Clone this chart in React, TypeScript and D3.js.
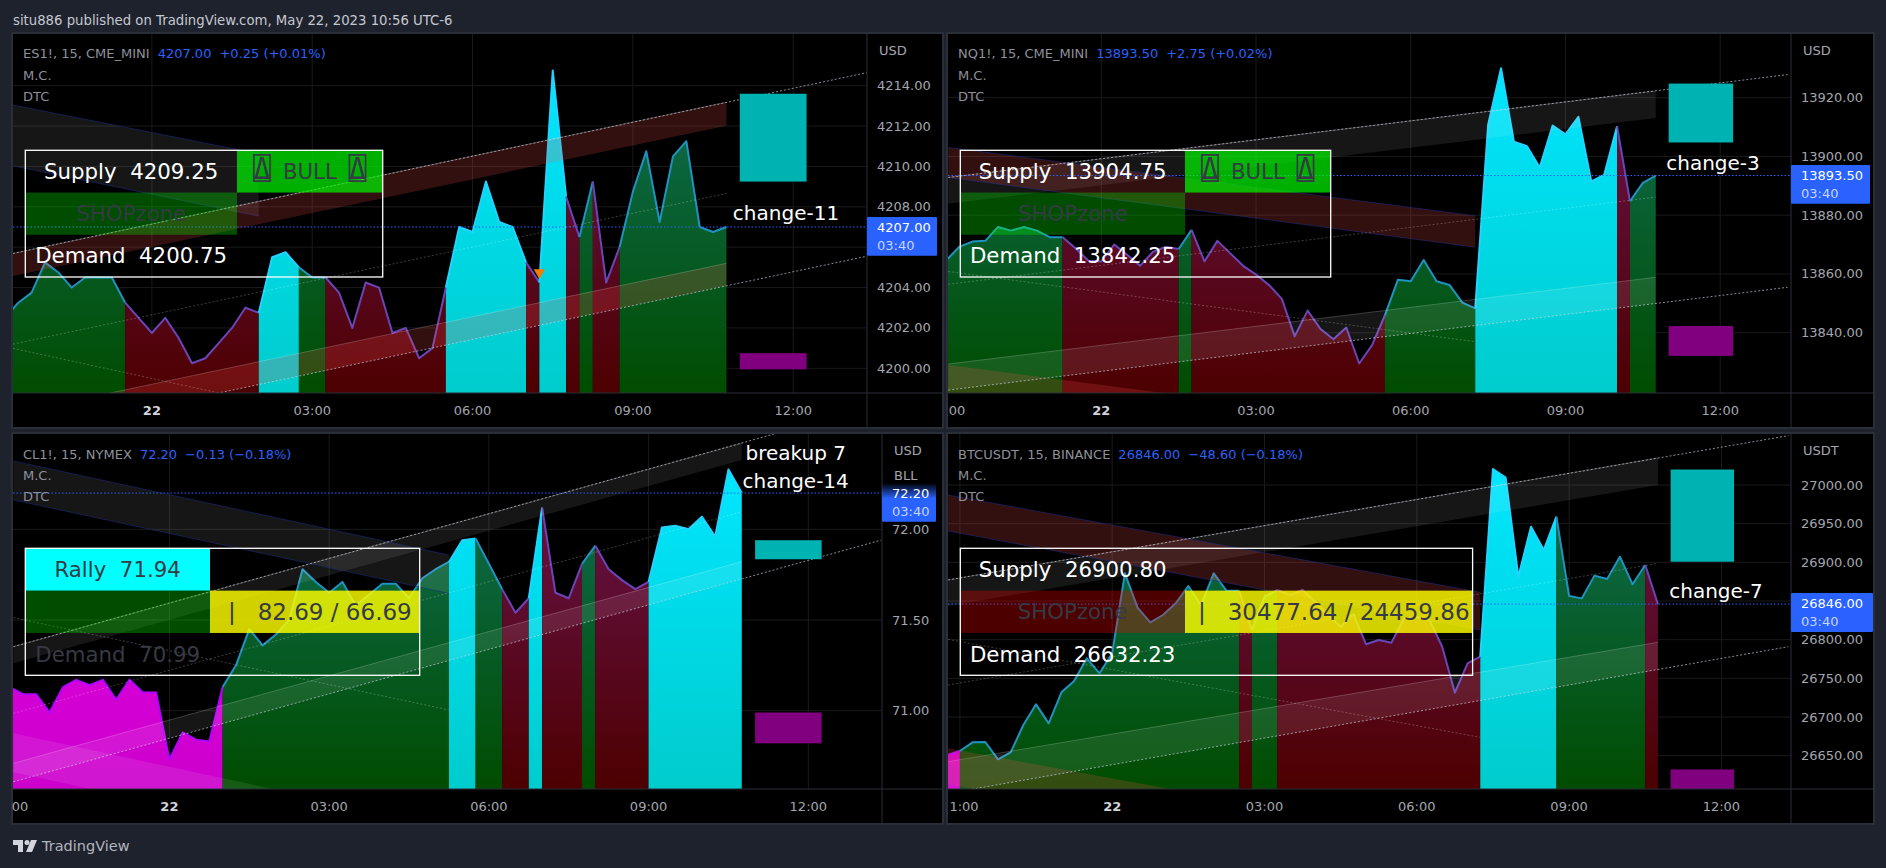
import React from "react";
import * as d3 from "d3";

const FONT = "'DejaVu Sans', sans-serif";
const MONO = "'DejaVu Sans Mono', 'DejaVu Sans', sans-serif";
const BLUE = "#2962ff";

// ---------- price series, one value per 15-minute bar ----------
const esFirstBar = -11;
const esPrices = [4202.5,4203.25,4203.75,4205.25,4204.75,4204,4204.5,4204.5,4204.5,4203.25,4202.5,4201.75,4202.5,4201.5,4200.25,4200.5,4201.25,4202,4203,4202.75,4205.5,4205.75,4205,4204.5,4204.5,4203.75,4202,4204.25,4204,4201.75,4202,4200.5,4201,4204,4207,4206.75,4209.25,4207.25,4207,4205.25,4204.25,4214.75,4208.5,4206.5,4209.25,4204.25,4206,4208.75,4210.75,4207.25,4210.5,4211.25,4207,4206.75,4207];
const esSegEnds = [-2,8,11,13,22,28,29,31,32,33,35,43];
const esSegKinds = ["g","r","c","g","r","c","r","c","r","g","r","g"];

const nqFirstBar = -12;
const nqPrices = [13864.75,13869.25,13871,13871.25,13876,13874.75,13876,13874.75,13872.5,13872.5,13868.75,13864.5,13864.25,13870,13866.5,13862.75,13867.5,13869.25,13868.5,13875,13864.25,13871.25,13867,13862.75,13859.75,13856.25,13851.5,13838.75,13847.5,13841.25,13837.75,13841.75,13829.5,13835.75,13846,13858,13857.5,13864.75,13857.5,13856.25,13850.25,13848.25,13910.75,13930,13905,13903.5,13896.25,13910.5,13907.5,13913.5,13891.5,13893.75,13910.25,13884.75,13891,13893.5];
const nqSegEnds = [-3,6,7,22,29,40,41,43];
const nqSegKinds = ["g","r","g","r","g","c","r","g"];

const clFirstBar = -12;
const clPrices = [71.13,71.09,71.09,70.99,71.13,71.17,71.14,71.17,71.06,71.17,71.1,71.1,70.73,70.88,70.84,70.83,71.13,71.25,71.45,71.36,71.42,71.5,71.78,71.71,71.65,71.71,71.58,71.64,71.7,71.7,71.62,71.73,71.78,71.82,71.94,71.95,71.81,71.67,71.54,71.62,72.12,71.65,71.62,71.81,71.91,71.78,71.72,71.67,71.71,72.01,72.02,72,72.07,71.96,72.33,72.2];
const clSegEnds = [4,21,23,25,27,28,31,32,36,43];
const clSegKinds = ["m","g","c","g","r","c","r","g","r","c"];

const btFirstBar = -13;
const btPrices = [26650.9,26656,26667.2,26667.7,26645.3,26654.3,26689.7,26716.4,26691.8,26731.9,26746.6,26775.9,26756.5,26782.3,26885.8,26841.4,26822.4,26831.9,26847,26869.4,26844.8,26885.8,26863.4,26863.4,26812.5,26855.6,26864.2,26857.8,26864.2,26849.1,26831.9,26816.8,26833.2,26794,26799.6,26796.1,26827.6,26828.9,26825.4,26790.9,26731.5,26769.4,26778,27020.7,27009.5,26881.5,26946.1,26915.9,26959,26856.5,26853.4,26882.8,26878.4,26907.3,26871.6,26896.6,26846];
const btSegEnds = [-12,10,11,13,29,35,42,43];
const btSegKinds = ["m","g","r","g","r","c","g","r"];

// ---------- axis ticks ----------
const timeBars = [-12,0,12,24,36,48];
const timeLabels = ["21:00","22","03:00","06:00","09:00","12:00"];
const esTicks = [4200,4202,4204,4206,4208,4210,4212,4214];
const nqTicks = [13840,13860,13880,13900,13920];
const clTicks = [71,71.5,72];
const btTicks = [26650,26700,26750,26800,26850,26900,26950,27000];
const hiddenTicks = [4206,26850];

// ---------- channels: [bar0, priceTop0, priceBot0, bar1, priceTop1, priceBot1, fill kind, edge kind] ----------
const esBands = [
  [-10.4,4213.04,4210.03,8,4210.63,4207.54,"w","n"],
  [-10.4,4205.69,4204.57,43,4213.18,4212.01,"r","e"],
  [-3.25,4198.76,4197.63,43,4205.2,4204.09,"r","e"],
];
const esLines = [
  [-10.4,4205.69,53.56,4214.65,"b"],
  [-10.4,4201.2,43,4208.66,"d"],
  [4.87,4198.76,53.56,4205.56,"b"],
  [-10.4,4200.99,4.87,4198.8,"d"],
];
const nqBands = [
  [-11.87,13892.84,13883.86,43,13922.3,13913.07,"w","e"],
  [-11.87,13903.07,13892.84,29,13879.77,13869.09,"r","n"],
  [-11.87,13829.32,13820.45,43,13858.86,13849.95,"w","e"],
  [-11.87,13828.98,13818.75,29,13805.68,13795.45,"r","x"],
];
const nqLines = [
  [-11.87,13892.84,53.22,13927.84,"b"],
  [-11.87,13856.48,43,13886.14,"d"],
  [-11.87,13860.8,29,13836.93,"d"],
  [-11.87,13820.45,53.22,13855.45,"b"],
];
const clBands = [
  [-11.72,71.353,71.261,43,72.475,72.382,"w","e"],
  [-11.72,72.377,72.162,21,71.858,71.647,"w","n"],
  [-11.72,70.71,70.608,43,71.822,71.727,"w","e"],
  [-11.72,70.875,70.66,21,70.36,70.145,"w","x"],
];
const clLines = [
  [-11.72,71.353,45.43,72.526,"b"],
  [-11.72,70.985,43,72.097,"d"],
  [-11.72,71.513,21,71.004,"d"],
  [-11.72,70.608,53.48,71.941,"b"],
];
const btBands = [
  [-12.93,26877.2,26843.5,43,27035,27000,"w","e"],
  [-12.93,26987.1,26940.5,29,26861.2,26812.5,"r","n"],
  [-12.93,26642.2,26601.3,43,26796.6,26761.4,"w","e"],
  [-12.93,26659.5,26612.9,29,26533.6,26487,"r","x"],
];
const btLines = [
  [-12.93,26877.2,53.28,27063.8,"b"],
  [-12.93,26741.4,43,26898.7,"d"],
  [-12.93,26800.4,29,26673.7,"d"],
  [-12.93,26601.3,53.28,26790.9,"b"],
];

// ---------- supply / demand zones ----------
const zoneBars = [44,49];
const esZones = [4213.6,4209.25,4200.75,4199.95];
const nqZones = [13924.8,13904.75,13842.25,13832.1];
const clZones = [71.94,71.835,70.99,70.82];
const btZones = [27020,26900.8,26632.23,26606.9];

const KIND: any = {
  g: { top: "#0f6e55", bot: "#004c00", line: "#2092c0" },
  r: { top: "#6a1450", bot: "#4d0000", line: "#6a45b8" },
  c: { top: "#00e6ff", bot: "#00cccc", line: "#22d3ff" },
  m: { top: "#e600e6", bot: "#cc00cc", line: "#b400ff" },
};
const BANDFILL: any = { w: "rgba(255,255,255,0.085)", r: "rgba(255,82,82,0.2)" };
const EDGE: any = { e: "rgba(255,255,255,0.2)", n: "rgba(30,45,130,0.55)" };

const CELL: any = {
  green: "rgba(0,255,0,0.69)",
  dgreen: "rgba(0,255,0,0.3)",
  dred: "rgba(255,0,0,0.3)",
  cyan: "#00ffff",
  yellow: "rgba(255,255,0,0.82)",
};
const DARK = "#363a45";
const QUAD = "\u234D";

const panels: any[] = [
  {
    id: "es", left: 13, plotRight: 867, right: 942, top: 34, bottom: 393, end: 427,
    x0: 151.9, x36: 632.9, py: [4200, 368.33, 4214, 85.67],
    firstBar: esFirstBar, prices: esPrices, segEnds: esSegEnds, segKinds: esSegKinds,
    ticks: esTicks, bands: esBands, lines: esLines, zones: esZones,
    title: "ES1!, 15, CME_MINI", quote: "4207.00", change: "+0.25 (+0.01%)", unit: "USD",
    last: 4207, lastLabel: "4207.00", labelBox: [217, 255.7], labelRight: 937,
    edgeLabel: "",
    table: { x0: 25.3, split: 237, x1: 382.7, y0: 150.3, y1: 277, cells: [
      [null, "Supply  4209.25", "#fff"], ["green", "BULL", DARK],
      ["dgreen", "SHOPzone", DARK], [null, "", DARK],
      [null, "Demand  4200.75", "#fff"], [null, "", DARK] ] },
    notes: [["change-11", 786, 213]],
    marker: [29, 4204.75],
  },
  {
    id: "nq", left: 948, plotRight: 1791, right: 1873, top: 34, bottom: 393, end: 427,
    x0: 1101.3, x36: 1565.5, py: [13840, 332.67, 13920, 97.67],
    firstBar: nqFirstBar, prices: nqPrices, segEnds: nqSegEnds, segKinds: nqSegKinds,
    ticks: nqTicks, bands: nqBands, lines: nqLines, zones: nqZones,
    title: "NQ1!, 15, CME_MINI", quote: "13893.50", change: "+2.75 (+0.02%)", unit: "USD",
    last: 13893.5, lastLabel: "13893.50", labelBox: [165, 203.7], labelRight: 1870,
    edgeLabel: "00",
    table: { x0: 960.3, split: 1185, x1: 1330.7, y0: 150.3, y1: 277, cells: [
      [null, "Supply  13904.75", "#fff"], ["green", "BULL", DARK],
      ["dgreen", "SHOPzone", DARK], [null, "", DARK],
      [null, "Demand  13842.25", "#fff"], [null, "", DARK] ] },
    notes: [["change-3", 1713, 163]],
  },
  {
    id: "cl", left: 13, plotRight: 882, right: 942, top: 434, bottom: 789, end: 823,
    x0: 169.4, x36: 648.6, py: [71, 710.67, 72, 529.33],
    firstBar: clFirstBar, prices: clPrices, segEnds: clSegEnds, segKinds: clSegKinds,
    ticks: clTicks, bands: clBands, lines: clLines, zones: clZones,
    title: "CL1!, 15, NYMEX", quote: "72.20", change: "\u22120.13 (\u22120.18%)", unit: "USD",
    last: 72.2, lastLabel: "72.20", labelBox: [483, 521.7], labelRight: 936, bll: true,
    edgeLabel: "00",
    table: { x0: 25.3, split: 210, x1: 419.7, y0: 548.3, y1: 675.3, cells: [
      ["cyan", "Rally  71.94", DARK], [null, "", DARK],
      ["dgreen", "", DARK], ["yellow", "|   82.69 / 66.69", DARK],
      [null, "Demand  70.99", DARK], [null, "", DARK] ] },
    notes: [["breakup 7", 795.7, 453], ["change-14", 795.7, 480.7]],
  },
  {
    id: "bt", left: 948, plotRight: 1791, right: 1873, top: 434, bottom: 789, end: 823,
    x0: 1112.2, x36: 1569.1, py: [26650, 755.67, 27000, 485],
    firstBar: btFirstBar, prices: btPrices, segEnds: btSegEnds, segKinds: btSegKinds,
    ticks: btTicks, bands: btBands, lines: btLines, zones: btZones,
    title: "BTCUSDT, 15, BINANCE", quote: "26846.00", change: "\u221248.60 (\u22120.18%)", unit: "USDT",
    last: 26846, lastLabel: "26846.00", labelBox: [593, 632], labelRight: 1873,
    edgeLabel: "1:00",
    table: { x0: 960.3, split: 1185, x1: 1472.6, y0: 548.3, y1: 675.3, cells: [
      [null, "Supply  26900.80", "#fff"], [null, "", DARK],
      ["dred", "SHOPzone", DARK], ["yellow", "|   30477.64 / 24459.86", DARK],
      [null, "Demand  26632.23", "#fff"], [null, "", DARK] ] },
    notes: [["change-7", 1716, 590.7]],
  },
];

const TABLE_SIZE = 21.3;

function Cell({ c, cx, cy }: { c: any; cx: number; cy: number }) {
  if (c[1] === "BULL") {
    return (
      <text x={cx} y={cy + 7.5} fill={c[2]} fontSize={TABLE_SIZE} fontFamily={FONT} textAnchor="middle" xmlSpace="preserve">
        <tspan fontFamily={MONO} fontSize={30}>{QUAD}</tspan>
        <tspan dx={5}>{" BULL "}</tspan>
        <tspan dx={5} fontFamily={MONO} fontSize={30}>{QUAD}</tspan>
      </text>
    );
  }
  const isRatio = c[1].startsWith("|");
  return <text x={cx + (isRatio ? 5 : 0)} y={cy} fill={c[2]} fontSize={isRatio ? 23 : TABLE_SIZE} fontFamily={FONT} textAnchor="middle" dominantBaseline="central" xmlSpace="preserve">{c[1]}</text>;
}

function Panel({ p }: { p: any }) {
  const x = d3.scaleLinear().domain([0, 36]).range([p.x0, p.x36]);
  const y = d3.scaleLinear().domain([p.py[0], p.py[2]]).range([p.py[1], p.py[3]]);
  const pts: [number, number][] = p.prices.map((v: number, i: number) => [p.firstBar + i, v]);
  const area = d3.area<[number, number]>().x((d) => x(d[0])).y0(p.bottom).y1((d) => y(d[1]));
  const line = d3.line<[number, number]>().x((d) => x(d[0])).y((d) => y(d[1]));
  const segs = p.segEnds.map((e: number, i: number) => {
    const s = i === 0 ? p.firstBar : p.segEnds[i - 1];
    return { kind: p.segKinds[i], data: pts.filter((d) => d[0] >= s && d[0] <= e) };
  });
  const gTop = y(d3.max(p.prices as number[]) as number);
  const t = p.table;
  const rowH = (t.y1 - t.y0) / 3;
  const fmt = d3.format(".2f");
  const axisTextX = p.plotRight + 10;
  const tx = p.left + 10;
  const headY = p.top === 34 ? [53, 75, 96] : [454, 475, 496];
  return (
    <g>
      <defs>
        <clipPath id={`plot-${p.id}`}><rect x={p.left} y={p.top} width={p.plotRight - p.left} height={p.bottom - p.top} /></clipPath>
        {Object.keys(KIND).map((k) => (
          <linearGradient key={k} id={`grad-${p.id}-${k}`} gradientUnits="userSpaceOnUse" x1={0} x2={0} y1={gTop} y2={p.bottom}>
            <stop offset="0" stopColor={KIND[k].top} />
            <stop offset="1" stopColor={KIND[k].bot} />
          </linearGradient>
        ))}
        <linearGradient id={`lab-${p.id}`} x1={0} x2={0} y1={0} y2={1}>
          <stop offset="0" stopColor={BLUE} stopOpacity={p.bll ? 0 : 1} />
          <stop offset={p.bll ? 0.4 : 0} stopColor={BLUE} />
          <stop offset="1" stopColor={BLUE} />
        </linearGradient>
      </defs>
      <rect x={p.left - 1} y={p.top - 1} width={p.right - p.left + 2} height={p.end - p.top + 2} fill="#000" stroke="#2a2e39" strokeWidth={2} />
      {/* grid */}
      {p.ticks.map((v: number) => <line key={v} x1={p.left} x2={p.plotRight} y1={y(v)} y2={y(v)} stroke="#1a1a1a" />)}
      {timeBars.map((b) => <line key={b} x1={x(b)} x2={x(b)} y1={p.top} y2={p.bottom} stroke="#1a1a1a" clipPath={`url(#plot-${p.id})`} />)}
      <g clipPath={`url(#plot-${p.id})`}>
        {segs.map((s: any, i: number) => <path key={i} d={area(s.data) as string} fill={`url(#grad-${p.id}-${s.kind})`} />)}
        {segs.map((s: any, i: number) => <path key={i} d={line(s.data) as string} fill="none" stroke={KIND[s.kind].line} strokeWidth={2} strokeLinejoin="round" />)}
        {/* channels */}
        {p.bands.map((b: any, i: number) => (
          <g key={i}>
            <path d={`M${x(b[0])},${y(b[1])}L${x(b[3])},${y(b[4])}L${x(b[3])},${y(b[5])}L${x(b[0])},${y(b[2])}Z`} fill={BANDFILL[b[6]]} />
            {b[7] === "n" && <line x1={x(b[0])} x2={x(b[3])} y1={y(b[1])} y2={y(b[4])} stroke={EDGE.n} />}
            {b[7] === "n" && <line x1={x(b[0])} x2={x(b[3])} y1={y(b[2])} y2={y(b[5])} stroke={EDGE.n} />}
            {b[7] === "e" && <line x1={x(b[0])} x2={x(b[3])} y1={y(b[1])} y2={y(b[4])} stroke={EDGE.e} />}
          </g>
        ))}
        {p.lines.map((l: any, i: number) => (
          <line key={i} x1={x(l[0])} x2={x(l[2])} y1={y(l[1])} y2={y(l[3])}
            stroke={l[4] === "b" ? "rgba(210,212,230,0.65)" : "rgba(255,255,255,0.24)"}
            strokeWidth={1} strokeDasharray="2 2" />
        ))}
        <line x1={p.left} x2={p.plotRight} y1={y(p.last)} y2={y(p.last)} stroke={BLUE} strokeDasharray="1.5 2" />
        {/* table */}
        {t.cells.map((c: any, i: number) => {
          const col = i % 2, row = Math.floor(i / 2);
          const cx0 = col === 0 ? t.x0 : t.split, cx1 = col === 0 ? t.split : t.x1;
          return (
            <g key={i}>
              {c[0] && <rect x={cx0} y={t.y0 + row * rowH} width={cx1 - cx0} height={rowH} fill={CELL[c[0]]} />}
              {c[1] && <Cell c={c} cx={(cx0 + cx1) / 2} cy={t.y0 + (row + 0.5) * rowH} />}
            </g>
          );
        })}
        <rect x={t.x0} y={t.y0} width={t.x1 - t.x0} height={t.y1 - t.y0} fill="none" stroke="#fff" strokeWidth={1.3} />
        {/* zones */}
        <rect x={x(zoneBars[0])} width={x(zoneBars[1]) - x(zoneBars[0])} y={y(p.zones[0])} height={y(p.zones[1]) - y(p.zones[0])} fill="#00b3b3" />
        <rect x={x(zoneBars[0])} width={x(zoneBars[1]) - x(zoneBars[0])} y={y(p.zones[2])} height={y(p.zones[3]) - y(p.zones[2])} fill="#800080" />
        {p.marker && <path transform={`translate(${x(p.marker[0])},${y(p.marker[1])}) rotate(180)`} d={d3.symbol(d3.symbolTriangle, 55)() as string} fill="#f57c00" />}
        {p.notes.map((n: any) => <text key={n[0]} x={n[1]} y={n[2]} fill="#fff" fontSize={20} fontFamily={FONT} textAnchor="middle" dominantBaseline="central">{n[0]}</text>)}
      </g>
      {/* header */}
      <text x={tx} y={headY[0]} fontSize={13} fontFamily={FONT} fill="#8e919b" dominantBaseline="central">
        {p.title}
        <tspan dx={8} fill={BLUE}>{p.quote}</tspan>
        <tspan dx={8} fill={BLUE}>{p.change}</tspan>
      </text>
      <text x={tx} y={headY[1]} fontSize={13} fontFamily={FONT} fill="#8e919b" dominantBaseline="central">M.C.</text>
      <text x={tx} y={headY[2]} fontSize={13} fontFamily={FONT} fill="#8e919b" dominantBaseline="central">DTC</text>
      {/* axes */}
      <line x1={p.left} x2={p.right} y1={p.bottom} y2={p.bottom} stroke="#2a2e39" />
      <line x1={p.plotRight} x2={p.plotRight} y1={p.top} y2={p.end} stroke="#2a2e39" />
      {timeBars.map((b, i) => {
        if (b === -12) {
          if (!p.edgeLabel) return null;
          return <text key={b} x={x(b) + 18.7} y={p.bottom + 17.7} fontSize={13} fontFamily={FONT} fill="#a3a6af" textAnchor="end" dominantBaseline="central">{p.edgeLabel}</text>;
        }
        return <text key={b} x={x(b)} y={p.bottom + 17.7} fontSize={13} fontFamily={FONT} fill={b === 0 ? "#d1d4dc" : "#a3a6af"} fontWeight={b === 0 ? 700 : 400} textAnchor="middle" dominantBaseline="central">{timeLabels[i]}</text>;
      })}
      <text x={axisTextX + 2} y={p.top + 16.7} fontSize={13} fontFamily={FONT} fill="#a3a6af" dominantBaseline="central">{p.unit}</text>
      {p.ticks.filter((v: number) => !hiddenTicks.includes(v)).map((v: number) => (
        <text key={v} x={axisTextX} y={y(v)} fontSize={13} fontFamily={FONT} fill="#a3a6af" dominantBaseline="central">{fmt(v)}</text>
      ))}
      {p.bll && <text x={axisTextX + 2} y={475} fontSize={13} fontFamily={FONT} fill="#a3a6af" dominantBaseline="central">BLL</text>}
      <rect x={p.plotRight} y={p.labelBox[0]} width={p.labelRight - p.plotRight} height={p.labelBox[1] - p.labelBox[0]} fill={`url(#lab-${p.id})`} rx={1} />
      <text x={axisTextX} y={p.labelBox[0] + 10.5} fontSize={13} fontFamily={FONT} fill="#fff" dominantBaseline="central">{p.lastLabel}</text>
      <text x={axisTextX} y={p.labelBox[0] + 28.5} fontSize={13} fontFamily={FONT} fill="#c7d4ff" dominantBaseline="central">03:40</text>
    </g>
  );
}

export default function App() {
  return (
    <svg width={1886} height={868} style={{ position: "absolute", left: 0, top: 0, display: "block" }}>
      <rect width={1886} height={868} fill="#1e222d" />
      <text x={13} y={20} fontSize={13.25} fontFamily={FONT} fill="#c5c8d0" dominantBaseline="central">situ886 published on TradingView.com, May 22, 2023 10:56 UTC-6</text>
      {panels.map((p) => <Panel key={p.id} p={p} />)}
      <g fill="#d1d4dc">
        <path d="M13,840H23V852H18V845H13Z" />
        <circle cx={27} cy={842.5} r={2.5} />
        <path d="M31,840H37L32,852H26Z" />
      </g>
      <text x={42} y={846} fontSize={14.5} fontFamily={FONT} fill="#b2b5be" dominantBaseline="central">TradingView</text>
    </svg>
  );
}
